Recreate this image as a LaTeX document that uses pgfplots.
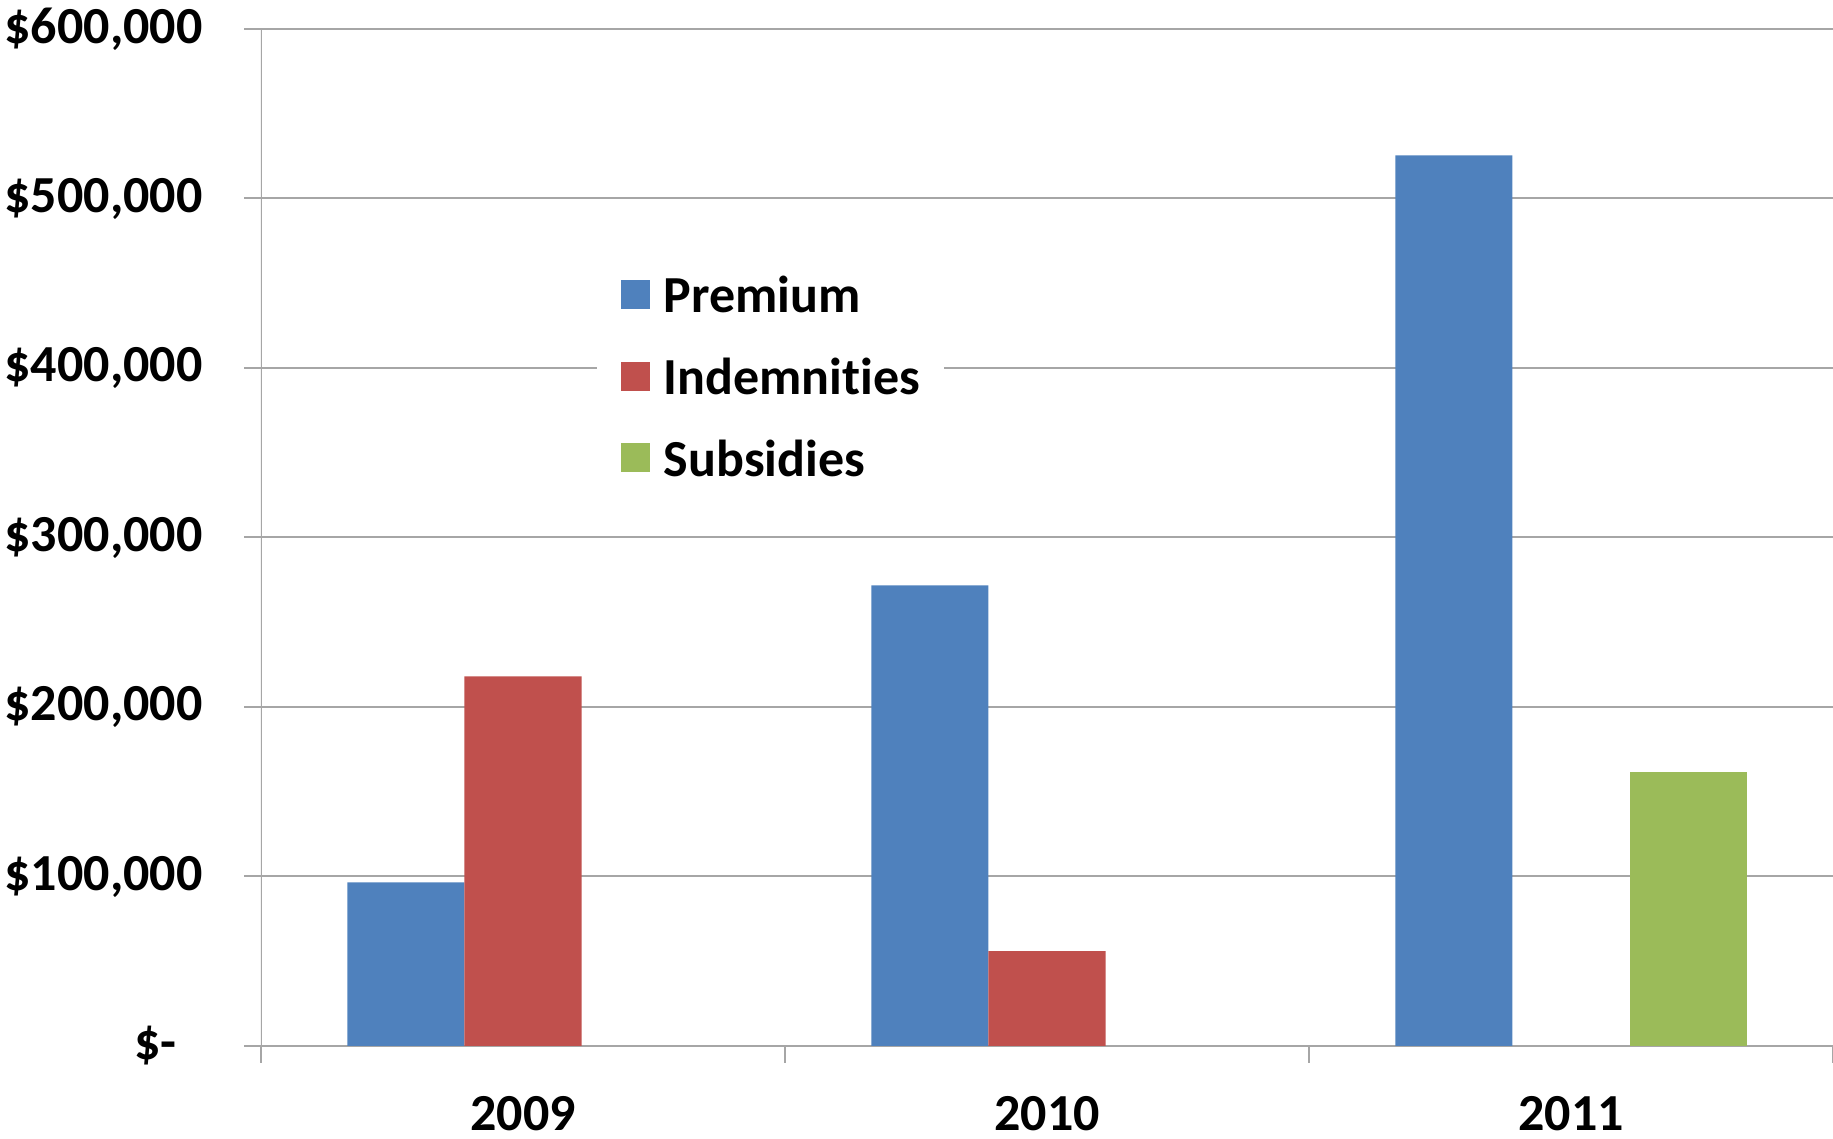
\documentclass[border=0pt]{standalone}
\usepackage{fontspec}
\setmainfont{Carlito}[Ligatures=NoCommon]
\usepackage{pgfplots}
\pgfplotsset{compat=1.18}

\definecolor{premium}{RGB}{79,129,189}
\definecolor{indem}{RGB}{192,80,77}
\definecolor{subs}{RGB}{155,187,89}
\definecolor{gridgray}{RGB}{166,166,166}

\begin{document}
\begin{tikzpicture}
\begin{axis}[
    ybar,
    width=393pt, height=254.25pt,
    scale only axis,
    xmin=-0.5, xmax=2.5,
    ymin=0, ymax=600000,
    axis line style={draw=none},
    tick pos=left,
    tick align=outside,
    major tick length=4.2pt,
    tick style={gridgray, line width=0.5pt},
    xtick={-0.5,0.5,1.5,2.5},
    x tick label as interval,
    xticklabels={2009,2010,2011},
    ytick={0,100000,200000,300000,400000,500000,600000},
    yticklabels={{\$-\rule{6.5pt}{0pt}},{\$100,000},{\$200,000},{\$300,000},{\$400,000},{\$500,000},{\$600,000}},
    scaled y ticks=false,
    ymajorgrids,
    grid style={gridgray, line width=0.5pt},
    tick label style={font=\fontsize{13pt}{15pt}\selectfont\bfseries},
    xticklabel style={yshift=-4.8pt},
    yticklabel style={xshift=-6.9pt},
    bar width=0.2235,
    legend style={
        at={(0.2131,0.7806)}, anchor=north west,
        draw=none, fill=white, inner sep=6pt,
        font=\fontsize{13pt}{15pt}\selectfont\bfseries,
        nodes={inner sep=0pt, text height=9pt, text depth=3pt},
        row sep=8.4pt, column sep=3.5pt,
    },
    legend cell align=left,
    legend image code/.code={\fill[#1] (0pt,-2pt) rectangle (7.25pt,5.25pt);},
]
\addplot[fill=premium, draw=none, bar shift=-0.2235] coordinates {(0,96500) (1,271700) (2,525500)};
\addlegendentry{Premium}
\addplot[fill=indem, draw=none, bar shift=0] coordinates {(0,218000) (1,55900)};
\addlegendentry{Indemnities}
\addplot[fill=subs, draw=none, bar shift=0.2235] coordinates {(2,161400)};
\addlegendentry{Subsidies}
\draw[gridgray, line width=0.5pt] (rel axis cs:0,0) -- (rel axis cs:0,1);
\coordinate (bl) at (rel axis cs:0,0);
\coordinate (tr) at (rel axis cs:1,1);
\end{axis}
\pgfresetboundingbox
\path[use as bounding box] ([shift={(-65.25pt,-23.25pt)}]bl) rectangle ([shift={(0pt,7.25pt)}]tr);
\end{tikzpicture}
\end{document}
